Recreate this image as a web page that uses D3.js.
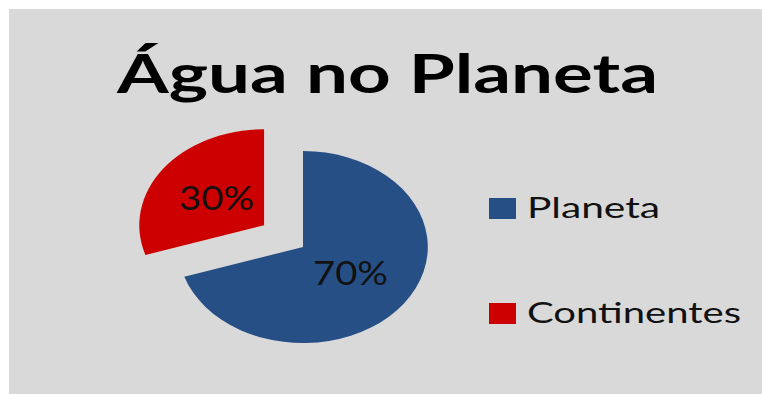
<!DOCTYPE html>
<html>
<head>
<meta charset="utf-8">
<script src="https://cdn.jsdelivr.net/npm/d3@7/dist/d3.min.js"></script>
<style>
  html, body { margin: 0; padding: 0; background: #ffffff; }
  svg { display: block; }
  text { font-family: Lato, "Open Sans", "Liberation Sans", sans-serif; }
</style>
</head>
<body>
<svg id="chart" width="762" height="394"></svg>
<script>
// Share of water: ocean ("Planeta") vs continents
const categories = ["Planeta", "Continentes"];
const values = [70, 30];
const colors = ["#264f86", "#cc0000"];
const title = "Água no Planeta";

const svg = d3.select("#chart");

// panel background
svg.append("rect")
  .attr("x", 9).attr("y", 9)
  .attr("width", 753).attr("height", 385)
  .attr("fill", "#d9d9d9");

// title
svg.append("text")
  .attr("x", 387.5).attr("y", 93)
  .attr("text-anchor", "middle")
  .attr("font-size", 53)
  .attr("font-weight", 700)
  .attr("fill", "#000")
  .attr("textLength", 541)
  .attr("lengthAdjust", "spacingAndGlyphs")
  .text(title);

// pie, drawn round then stretched horizontally
const cx = 303, cy = 247, r = 96, sx = 1.3;
const explode = [0, 37];

const pie = d3.pie().sort(null).value(d => d)(values);
const arc = d3.arc().innerRadius(0).outerRadius(r);
const labelArc = d3.arc().innerRadius(r * 0.47).outerRadius(r * 0.47);

const g = svg.append("g").attr("transform", `translate(${cx},${cy}) scale(${sx},1)`);

const slices = g.selectAll("g.slice").data(pie).enter().append("g")
  .attr("class", "slice")
  .attr("transform", (d, i) => {
    const a = (d.startAngle + d.endAngle) / 2;
    return `translate(${Math.sin(a) * explode[i]},${-Math.cos(a) * explode[i]})`;
  });

slices.append("path")
  .attr("d", arc)
  .attr("fill", (d, i) => colors[i]);

// percentage labels (kept unstretched, placed at stretched centroids)
pie.forEach((d, i) => {
  const a = (d.startAngle + d.endAngle) / 2;
  const [lx, ly] = labelArc.centroid(d);
  const ox = Math.sin(a) * explode[i], oy = -Math.cos(a) * explode[i];
  svg.append("text")
    .attr("x", cx + (lx + ox) * sx)
    .attr("y", cy + ly + oy + 11)
    .attr("text-anchor", "middle")
    .attr("font-size", 32)
    .attr("fill", "#111")
    .attr("textLength", 75)
    .attr("lengthAdjust", "spacingAndGlyphs")
    .text(d.data + "%");
});

// legend
const legendY = d3.scalePoint().domain(categories).range([208, 313]);
const legendW = { "Planeta": 133, "Continentes": 214 };
const lg = svg.selectAll("g.legend").data(categories).enter().append("g")
  .attr("class", "legend")
  .attr("transform", d => `translate(489,${legendY(d)})`);
lg.append("rect")
  .attr("x", 0).attr("y", -10)
  .attr("width", 27).attr("height", 21)
  .attr("fill", (d, i) => colors[i]);
lg.append("text")
  .attr("x", 38).attr("y", 10)
  .attr("font-size", 29)
  .attr("fill", "#111")
  .attr("textLength", d => legendW[d])
  .attr("lengthAdjust", "spacingAndGlyphs")
  .text(d => d);
</script>
</body>
</html>
